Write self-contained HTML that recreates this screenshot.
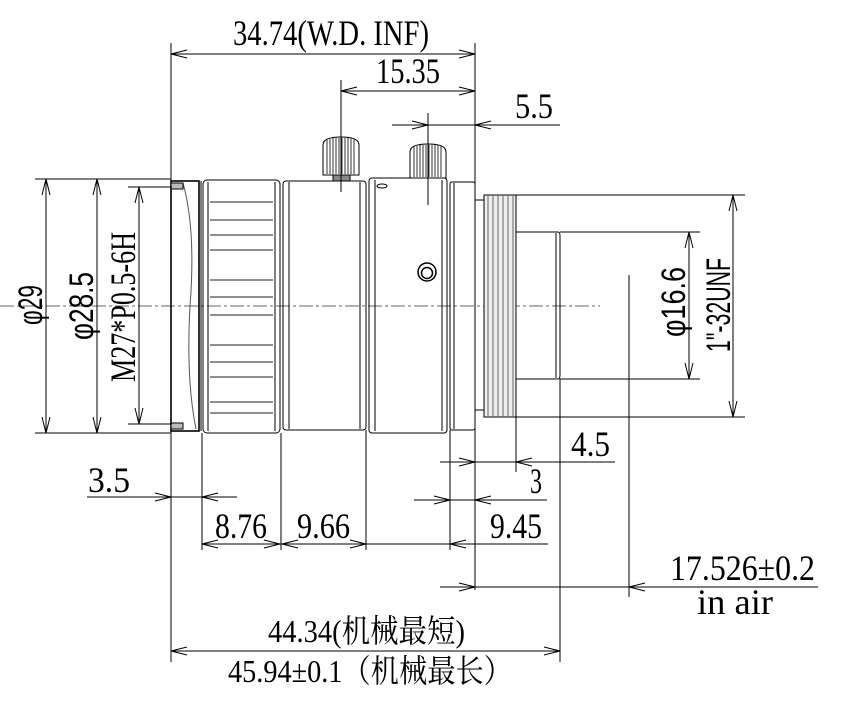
<!DOCTYPE html>
<html><head><meta charset="utf-8"><style>
html,body{margin:0;padding:0;background:#fff;}
svg{display:block}
.s{font-family:"Liberation Serif","Noto Serif CJK SC",serif;font-size:36px;fill:#000}
.a{font-family:"Liberation Sans","Noto Sans CJK SC",sans-serif;font-size:34px;fill:#000}
</style></head><body>
<svg width="865" height="707" viewBox="0 0 865 707" xmlns="http://www.w3.org/2000/svg">
<g fill="none" stroke="#000" stroke-width="1">
<line x1="0" y1="306" x2="600" y2="306" stroke="#666" stroke-dasharray="14,3,3,3"/>
<rect x="171" y="181" width="28" height="250" stroke-width="1.6"/>
<path d="M183 183 Q196 230 190 306 Q186 380 196 429" stroke="#555"/>
<rect x="171" y="183" width="12" height="6" fill="#bbb"/>
<rect x="171" y="423" width="12" height="6" fill="#bbb"/>
<line x1="199" y1="183" x2="199" y2="429"/>
<line x1="201" y1="181" x2="201" y2="431"/>
<rect x="203" y="180" width="77" height="253" rx="4"/>
<line x1="208" y1="182" x2="208" y2="431"/>
<line x1="275" y1="182" x2="275" y2="431"/>
<g stroke="#222">
<line x1="210" y1="202" x2="273" y2="202"/><line x1="210" y1="220" x2="273" y2="220"/>
<line x1="210" y1="235" x2="273" y2="235"/><line x1="210" y1="250" x2="273" y2="250"/>
<line x1="210" y1="280" x2="273" y2="280"/><line x1="210" y1="297" x2="273" y2="297"/>
<line x1="210" y1="315" x2="273" y2="315"/><line x1="210" y1="345" x2="273" y2="345"/>
<line x1="210" y1="362" x2="273" y2="362"/><line x1="210" y1="377" x2="273" y2="377"/>
<line x1="210" y1="402" x2="273" y2="402"/><line x1="210" y1="413" x2="273" y2="413"/>
</g>
<rect x="283" y="181" width="83" height="249" rx="3"/>
<line x1="289" y1="182" x2="289" y2="429"/>
<line x1="360" y1="182" x2="360" y2="429"/>
<rect x="369" y="178" width="78" height="255" rx="3"/>
<line x1="375" y1="180" x2="375" y2="431"/>
<line x1="442" y1="180" x2="442" y2="431"/>
<ellipse cx="382" cy="186" rx="5" ry="2"/>
<circle cx="427" cy="272" r="9" stroke-width="1.5"/>
<circle cx="427" cy="273" r="5.5" stroke-width="1.5"/>
<rect x="450" y="182" width="25" height="248" rx="2"/>
<line x1="454" y1="183" x2="454" y2="429"/>
<rect x="475" y="200" width="9" height="210"/>
<rect x="484" y="195" width="32" height="222" fill="#eee"/>
<g stroke="#666">
<line x1="488" y1="195" x2="488" y2="417"/><line x1="493" y1="195" x2="493" y2="417"/>
<line x1="498" y1="195" x2="498" y2="417"/><line x1="503" y1="195" x2="503" y2="417"/>
<line x1="508" y1="195" x2="508" y2="417"/><line x1="513" y1="195" x2="513" y2="417"/>
</g>
<path d="M516 232 H558 Q560 232 560 236 V375 Q560 379 558 379 H516"/>
<line x1="556" y1="233" x2="556" y2="378"/>
<path d="M323 175 V145 Q323 137 341 137 Q359 137 359 145 V175 Z" fill="#fff"/>
<g stroke="#333"><line x1="327" y1="140" x2="327" y2="174"/><line x1="330" y1="139" x2="330" y2="174"/><line x1="333" y1="138" x2="333" y2="174"/><line x1="336" y1="138" x2="336" y2="174"/><line x1="339" y1="138" x2="339" y2="174"/><line x1="342" y1="138" x2="342" y2="174"/><line x1="345" y1="138" x2="345" y2="174"/><line x1="348" y1="138" x2="348" y2="174"/><line x1="351" y1="138" x2="351" y2="174"/><line x1="354" y1="139" x2="354" y2="174"/></g>
<rect x="333" y="175" width="17" height="6" fill="#888"/>
<path d="M410 178 V152 Q410 144 428 144 Q446 144 446 152 V178 Z" fill="#fff"/>
<g stroke="#333"><line x1="414" y1="147" x2="414" y2="177"/><line x1="417" y1="146" x2="417" y2="177"/><line x1="420" y1="145" x2="420" y2="177"/><line x1="423" y1="145" x2="423" y2="177"/><line x1="426" y1="145" x2="426" y2="177"/><line x1="429" y1="145" x2="429" y2="177"/><line x1="432" y1="145" x2="432" y2="177"/><line x1="435" y1="145" x2="435" y2="177"/><line x1="438" y1="145" x2="438" y2="177"/><line x1="441" y1="146" x2="441" y2="177"/></g>

<line x1="171" y1="43" x2="171" y2="662"/>
<line x1="475" y1="43" x2="475" y2="590"/>
<line x1="341" y1="80" x2="341" y2="192"/>
<line x1="428" y1="113" x2="428" y2="205"/>
<line x1="202" y1="433" x2="202" y2="550"/>
<line x1="281" y1="433" x2="281" y2="550"/>
<line x1="366" y1="430" x2="366" y2="550"/>
<line x1="450" y1="430" x2="450" y2="550"/>
<line x1="516" y1="417" x2="516" y2="472"/>
<line x1="560" y1="379" x2="560" y2="662"/>
<line x1="629" y1="275" x2="629" y2="597"/>
<line x1="35" y1="179" x2="171" y2="179"/><line x1="35" y1="433" x2="171" y2="433"/>
<line x1="128" y1="187" x2="172" y2="187"/><line x1="128" y1="424" x2="172" y2="424"/>
<line x1="516" y1="195" x2="745" y2="195"/><line x1="516" y1="417" x2="745" y2="417"/>
<line x1="560" y1="232" x2="700" y2="232"/><line x1="560" y1="379" x2="700" y2="379"/>

<line x1="171" y1="54" x2="475" y2="54"/>
<polyline points="187,50 171,54 187,58"/><polyline points="459,50 475,54 459,58"/>
<line x1="341" y1="91" x2="475" y2="91"/>
<polyline points="357,87 341,91 357,95"/><polyline points="459,87 475,91 459,95"/>
<line x1="392" y1="125" x2="560" y2="125"/>
<polyline points="412,121 428,125 412,129"/><polyline points="491,121 475,125 491,129"/>

<line x1="46" y1="179" x2="46" y2="433"/>
<polyline points="42,195 46,179 50,195"/><polyline points="42,417 46,433 50,417"/>
<line x1="97" y1="179" x2="97" y2="433"/>
<polyline points="93,195 97,179 101,195"/><polyline points="93,417 97,433 101,417"/>
<line x1="139" y1="187" x2="139" y2="424"/>
<polyline points="135,203 139,187 143,203"/><polyline points="135,408 139,424 143,408"/>
<line x1="689" y1="232" x2="689" y2="379"/>
<polyline points="685,248 689,232 693,248"/><polyline points="685,363 689,379 693,363"/>
<line x1="733" y1="195" x2="733" y2="417"/>
<polyline points="729,211 733,195 737,211"/><polyline points="729,401 733,417 737,401"/>

<line x1="87" y1="497" x2="237" y2="497"/>
<polyline points="155,493 171,497 155,501"/><polyline points="218,493 202,497 218,501"/>
<line x1="202" y1="544" x2="548" y2="544"/>
<polyline points="218,540 202,544 218,548"/><polyline points="264,540 280,544 264,548"/>
<polyline points="298,540 282,544 298,548"/><polyline points="350,540 366,544 350,548"/>
<polyline points="466,540 450,544 466,548"/>
<line x1="414" y1="500" x2="547" y2="500"/>
<polyline points="434,496 450,500 434,504"/><polyline points="491,496 475,500 491,504"/>
<line x1="440" y1="462" x2="615" y2="462"/>
<polyline points="459,458 475,462 459,466"/><polyline points="532,458 516,462 532,466"/>
<line x1="440" y1="587" x2="818" y2="587"/>
<polyline points="459,583 475,587 459,591"/><polyline points="645,583 629,587 645,591"/>
<line x1="171" y1="651" x2="560" y2="651"/>
<polyline points="187,647 171,651 187,655"/><polyline points="544,647 560,651 544,655"/>
</g>

<g class="s">
<text x="233" y="45" textLength="196" lengthAdjust="spacingAndGlyphs">34.74(W.D. INF)</text>
<text x="376" y="83" textLength="64" lengthAdjust="spacingAndGlyphs">15.35</text>
<text x="515" y="118" textLength="38" lengthAdjust="spacingAndGlyphs">5.5</text>
<text x="88" y="492" textLength="42" lengthAdjust="spacingAndGlyphs">3.5</text>
<text x="215" y="538" textLength="52" lengthAdjust="spacingAndGlyphs">8.76</text>
<text x="297" y="538" textLength="53" lengthAdjust="spacingAndGlyphs">9.66</text>
<text x="490" y="538" textLength="52" lengthAdjust="spacingAndGlyphs">9.45</text>
<text x="530" y="493" textLength="12" lengthAdjust="spacingAndGlyphs">3</text>
<text x="571" y="456" textLength="39" lengthAdjust="spacingAndGlyphs">4.5</text>
<text x="670" y="580" textLength="145" lengthAdjust="spacingAndGlyphs">17.526±0.2</text>
<text x="697" y="614" textLength="76" lengthAdjust="spacingAndGlyphs">in air</text>
<text x="268" y="642" textLength="197" lengthAdjust="spacingAndGlyphs" style="font-size:32px">44.34(机械最短)</text>
<text x="228" y="682" textLength="284" lengthAdjust="spacingAndGlyphs" style="font-size:32px">45.94±0.1（机械最长）</text>
<text transform="translate(135,382) rotate(-90)" textLength="150" lengthAdjust="spacingAndGlyphs">M27*P0.5-6H</text>
</g>
<g class="a">
<text transform="translate(42,325) rotate(-90)" textLength="40" lengthAdjust="spacingAndGlyphs">φ29</text>
<text transform="translate(93,340) rotate(-90)" textLength="68" lengthAdjust="spacingAndGlyphs">φ28.5</text>
<text transform="translate(685,337) rotate(-90)" textLength="70" lengthAdjust="spacingAndGlyphs">φ16.6</text>
<text transform="translate(730,352) rotate(-90)" textLength="94" lengthAdjust="spacingAndGlyphs">1"-32UNF</text>
</g>
</svg>
</body></html>
